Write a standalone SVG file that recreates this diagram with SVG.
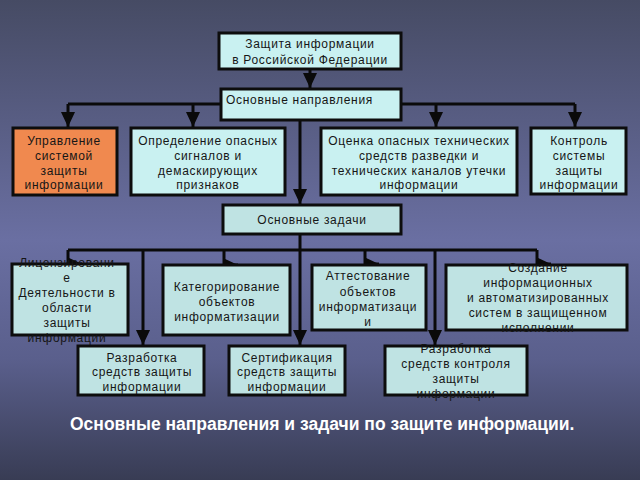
<svg xmlns="http://www.w3.org/2000/svg" width="640" height="480" viewBox="0 0 640 480">
<defs>
<linearGradient id="bg" x1="0" y1="0" x2="0" y2="1">
<stop offset="0" stop-color="#464b64"/>
<stop offset="0.5" stop-color="#6a6fa2"/>
<stop offset="0.75" stop-color="#5a5f8c"/>
<stop offset="1" stop-color="#383c54"/>
</linearGradient>
<marker id="ah" markerUnits="userSpaceOnUse" markerWidth="15" markerHeight="14" refX="15" refY="7" orient="auto">
<path d="M0,0 L15,7 L0,14 z" fill="#0a0a0a"/>
</marker>
<style>
.box{fill:#c9f1f1;stroke:#0d0d0d;stroke-width:3}
.box2{fill:#bfe3e3;stroke:#0d0d0d;stroke-width:3}
.org{fill:#f0894f;stroke:#0d0d0d;stroke-width:3}
.t{font-family:"Liberation Sans",Arial,sans-serif;font-size:12px;fill:#161616;text-anchor:middle;letter-spacing:0.7px}
.tl{text-anchor:start}
.c{fill:none;stroke:#0a0a0a;stroke-width:3;marker-end:url(#ah)}
.l{fill:none;stroke:#0a0a0a;stroke-width:3}
.cap{font-family:"Liberation Sans",Arial,sans-serif;font-size:17.5px;font-weight:bold;fill:#ffffff}
</style>
</defs>
<rect width="640" height="480" fill="url(#bg)"/>

<g id="connectors">
<path class="c" d="M310,69 V88"/>
<path class="l" d="M221,104 H68"/>
<path class="l" d="M401,104 H575"/>
<path class="c" d="M68,104 V127"/>
<path class="c" d="M193,104 V127"/>
<path class="c" d="M436,104 V127"/>
<path class="c" d="M575,104 V127"/>
<path class="c" d="M300,120 V204"/>
<path class="l" d="M68,250 H537"/>
<path class="c" d="M300,234 V345"/>
<path class="c" d="M68,250 V264 H82"/>
<path class="c" d="M224,250 V265 H238"/>
<path class="c" d="M365,250 V264 H379"/>
<path class="c" d="M537,250 V264 H551"/>
<path class="c" d="M143,250 V345"/>
<path class="c" d="M435,250 V345"/>
</g>

<g id="n-root">
<rect class="box" x="219" y="33" width="182" height="36"/>
<text class="t" x="310" y="48" letter-spacing="0.4">Защита информации</text>
<text class="t" x="310" y="64" letter-spacing="0.4">в Российской Федерации</text>
</g>
<g id="n-napr">
<rect class="box" x="221" y="89" width="180" height="31"/>
<text class="t tl" x="226" y="104" letter-spacing="0.4">Основные направления</text>
</g>

<g id="n-upr">
<rect class="org" x="13" y="128" width="104" height="67"/>
<text class="t" x="64" y="145" letter-spacing="1.2">Управление</text>
<text class="t" x="64" y="160" letter-spacing="1.2">системой</text>
<text class="t" x="64" y="175" letter-spacing="1.2">защиты</text>
<text class="t" x="64" y="189" letter-spacing="1.2">информации</text>
</g>
<g id="n-opr">
<rect class="box" x="131" y="128" width="154" height="67"/>
<text class="t" x="208" y="145">Определение опасных</text>
<text class="t" x="208" y="160">сигналов и</text>
<text class="t" x="208" y="175">демаскирующих</text>
<text class="t" x="208" y="189">признаков</text>
</g>
<g id="n-ocen">
<rect class="box" x="321" y="128" width="196" height="67"/>
<text class="t" x="419" y="145">Оценка опасных технических</text>
<text class="t" x="419" y="160">средств разведки и</text>
<text class="t" x="419" y="175">технических каналов утечки</text>
<text class="t" x="419" y="189">информации</text>
</g>
<g id="n-kontr">
<rect class="box" x="531" y="128" width="95" height="66"/>
<text class="t" x="579" y="145">Контроль</text>
<text class="t" x="579" y="160">системы</text>
<text class="t" x="579" y="175">защиты</text>
<text class="t" x="579" y="189">информации</text>
</g>

<g id="n-zad">
<rect class="box2" x="223" y="205" width="178" height="29"/>
<text class="t" x="312" y="224">Основные задачи</text>
</g>

<g id="n-lic">
<rect class="box2" x="12" y="264" width="116" height="71"/>
<text class="t" x="67" y="267">Лицензировани</text>
<text class="t" x="67" y="282">е</text>
<text class="t" x="67" y="297">Деятельности в</text>
<text class="t" x="67" y="312">области</text>
<text class="t" x="67" y="327">защиты</text>
<text class="t" x="67" y="342">информации</text>
</g>
<g id="n-kat">
<rect class="box2" x="163" y="265" width="127" height="70"/>
<text class="t" x="227" y="291">Категорирование</text>
<text class="t" x="227" y="306">объектов</text>
<text class="t" x="227" y="321">информатизации</text>
</g>
<g id="n-att">
<rect class="box2" x="312" y="265" width="114" height="65"/>
<text class="t" x="368" y="280">Аттестование</text>
<text class="t" x="368" y="296">объектов</text>
<text class="t" x="368" y="311">информатизаци</text>
<text class="t" x="368" y="326">и</text>
</g>
<g id="n-sozd">
<rect class="box2" x="446" y="265" width="181" height="65"/>
<text class="t" x="538" y="272">Создание</text>
<text class="t" x="538" y="287">информационных</text>
<text class="t" x="538" y="302">и автоматизированных</text>
<text class="t" x="538" y="317">систем в защищенном</text>
<text class="t" x="538" y="332">исполнении</text>
</g>

<g id="n-razr1">
<rect class="box2" x="78" y="346" width="126" height="49"/>
<text class="t" x="142" y="362">Разработка</text>
<text class="t" x="142" y="376">средств защиты</text>
<text class="t" x="142" y="391">информации</text>
</g>
<g id="n-sert">
<rect class="box2" x="229" y="346" width="116" height="49"/>
<text class="t" x="287" y="362">Сертификация</text>
<text class="t" x="287" y="376">средств защиты</text>
<text class="t" x="287" y="391">информации</text>
</g>
<g id="n-razr2">
<rect class="box2" x="385" y="346" width="142" height="49"/>
<text class="t" x="456" y="353">Разработка</text>
<text class="t" x="456" y="368">средств контроля</text>
<text class="t" x="456" y="383">защиты</text>
<text class="t" x="456" y="398">информации</text>
</g>

<text class="cap" x="70" y="430">Основные направления и задачи по защите информации.</text>
</svg>
